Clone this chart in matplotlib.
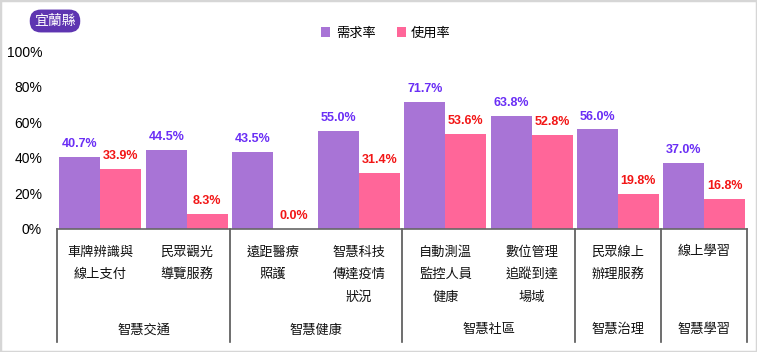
import matplotlib
matplotlib.use("Agg")
import matplotlib.pyplot as plt
from matplotlib.patches import Rectangle
from matplotlib.transforms import blended_transform_factory
import numpy as np

plt.rcParams['font.family'] = ['Liberation Sans', 'Noto Sans CJK TC', 'DejaVu Sans']

# data
categories = ["車牌辨識與\n線上支付", "民眾觀光\n導覽服務", "遠距醫療\n照護", "智慧科技\n傳達疫情\n狀況",
              "自動測溫\n監控人員\n健康", "數位管理\n追蹤到達\n場域", "民眾線上\n辦理服務", "線上學習"]
groups = ["智慧交通", "智慧健康", "智慧社區", "智慧治理", "智慧學習"]
group_sizes = [2, 2, 2, 1, 1]
demand = [40.7, 44.5, 43.5, 55.0, 71.7, 63.8, 56.0, 37.0]
usage = [33.9, 8.3, 0.0, 31.4, 53.6, 52.8, 19.8, 16.8]
series_names = ["需求率", "使用率"]
yticks = [0, 20, 40, 60, 80, 100]

W, H = 757, 352
c_dem = "#A874D6"
c_use = "#FF6699"
cjk = ['Noto Sans CJK TC', 'DejaVu Sans']

fig = plt.figure(figsize=(W / 100, H / 100), dpi=100)
# axes: left 57.3px, right 747.3px, baseline y=229, 100% at y=51.3
ax = fig.add_axes([57.3 / W, (H - 229) / H, 690 / W, (229 - 51.3) / H])

x = np.arange(len(categories))
bw = 0.475
ax.bar(x - bw / 2, demand, bw, color=c_dem, label=series_names[0])
ax.bar(x + bw / 2, usage, bw, color=c_use, label=series_names[1])

for xi, v in zip(x, demand):
    ax.annotate(f"{v:.1f}%", (xi - bw / 2, v), xytext=(0, 5), textcoords="offset points",
                ha="center", va="bottom", fontsize=9, fontweight="bold", color="#6A2EF5")
for xi, v in zip(x, usage):
    ax.annotate(f"{v:.1f}%", (xi + bw / 2, v), xytext=(0, 5), textcoords="offset points",
                ha="center", va="bottom", fontsize=9, fontweight="bold", color="#F21616")

ax.set_xlim(-0.5, len(categories) - 0.5)
ax.set_ylim(0, 100)
ax.set_yticks(yticks)
ax.set_yticklabels([f"{t}%" for t in yticks], fontsize=10)
ax.tick_params(axis="y", length=0, pad=11)
ax.set_xticks([])
for s in ["top", "right", "left"]:
    ax.spines[s].set_visible(False)
ax.spines["bottom"].set_color("#666666")
ax.spines["bottom"].set_linewidth(1.2)

tr = blended_transform_factory(ax.transData, fig.transFigure)

def fy(py):
    return (H - py) / H

# category labels
for xi, lab in zip(x, categories):
    for i, line in enumerate(lab.split("\n")):
        ax.text(xi, fy(252 + 22.5 * i), line, transform=tr, ha="center", va="center",
                fontsize=9.5, family=cjk, color="#111111")

# group labels and separators
edges = np.concatenate([[0], np.cumsum(group_sizes)]) - 0.5
for g, a, b in zip(groups, edges[:-1], edges[1:]):
    ax.text((a + b) / 2, fy(330), g, transform=tr, ha="center", va="center",
            fontsize=9.5, family=cjk, color="#111111")
for e in edges:
    ax.plot([e, e], [fy(229), fy(342)], transform=tr, color="#555555", lw=1.2, clip_on=False)

# legend
leg = fig.legend(loc="center", bbox_to_anchor=(386 / W, fy(33)), ncol=2, frameon=False,
                 prop={"family": cjk, "size": 9.5}, handlelength=0.7, handleheight=0.7,
                 handletextpad=0.4, columnspacing=1.6)

# title badge
fig.text(55 / W, fy(21), "宜蘭縣", ha="center", va="center", color="white", fontsize=10,
         family=cjk,
         bbox=dict(boxstyle="round,pad=0.32,rounding_size=0.8", fc="#5E35B1", ec="none"))

# border
fig.patches.append(Rectangle((0, 0), 1, 1, transform=fig.transFigure, fill=False,
                             ec="#D6D6D6", lw=2.5))

fig.savefig("out.png", dpi=100)
